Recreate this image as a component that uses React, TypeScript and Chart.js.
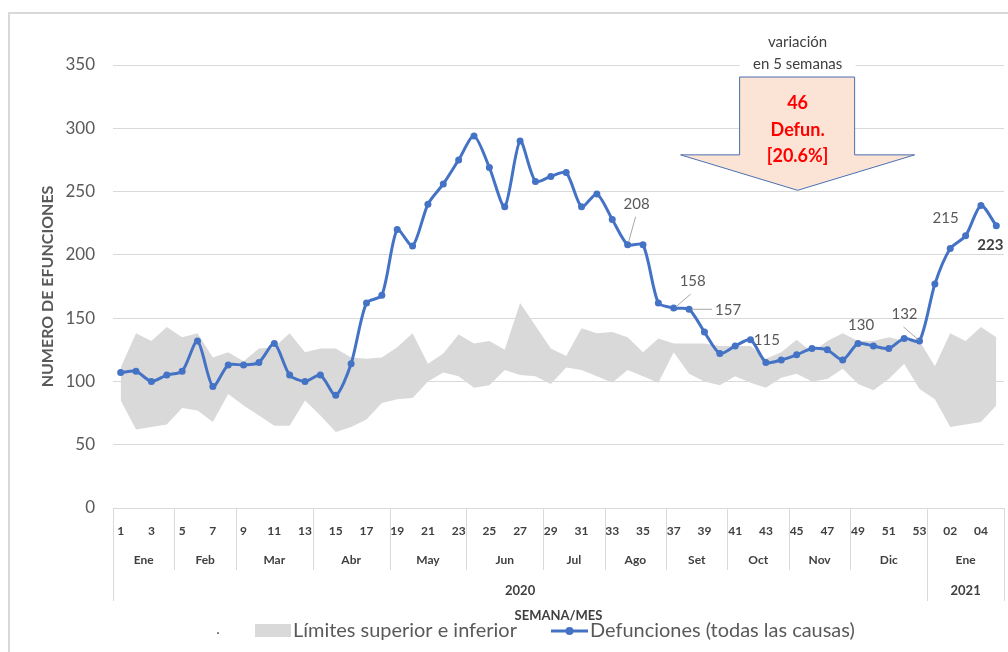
import { useEffect, useRef } from 'react';
import { Chart, registerables } from 'chart.js';

Chart.register(...registerables);

const FONT = 'Lato, "Liberation Sans", Arial, sans-serif';

const weekLabels = [
  '1', '2', '3', '4', '5', '6', '7', '8', '9', '10',
  '11', '12', '13', '14', '15', '16', '17', '18', '19', '20',
  '21', '22', '23', '24', '25', '26', '27', '28', '29', '30',
  '31', '32', '33', '34', '35', '36', '37', '38', '39', '40',
  '41', '42', '43', '44', '45', '46', '47', '48', '49', '50',
  '51', '52', '53', '01', '02', '03', '04', '05',
];

const monthNames = ['Ene', 'Feb', 'Mar', 'Abr', 'May', 'Jun', 'Jul', 'Ago', 'Set', 'Oct', 'Nov', 'Dic', 'Ene'];
const monthWeekCounts = [4, 4, 5, 5, 5, 5, 4, 4, 4, 4, 4, 5, 5];
const yearNames = ['2020', '2021'];
const yearWeekCounts = [53, 5];

const deaths = [
  107, 108, 100, 105, 108, 132, 96, 113, 113, 115,
  130, 105, 100, 105, 89, 114, 162, 168, 220, 207,
  240, 256, 275, 294, 269, 238, 290, 258, 262, 265,
  238, 248, 228, 208, 208, 162, 158, 157, 139, 122,
  128, 133, 115, 117, 121, 126, 125, 117, 130, 128,
  126, 134, 132, 177, 205, 215, 239, 223,
];

const upperLimit = [
  111, 138, 132, 143, 135, 138, 119, 123, 116, 126,
  127, 138, 123, 126, 126, 119, 118, 119, 127, 138,
  114, 122, 137, 130, 132, 125, 162, 144, 126, 120,
  142, 138, 139, 135, 123, 134, 130, 130, 130, 128,
  128, 128, 118, 123, 133, 123, 132, 138, 132, 132,
  135, 132, 132, 112, 138, 132, 143, 135,
];

const lowerLimit = [
  85, 62, 64, 66, 79, 77, 68, 90, 81, 73,
  65, 65, 85, 73, 60, 64, 70, 83, 86, 87,
  100, 107, 104, 95, 97, 109, 105, 104, 98, 111,
  109, 104, 99, 109, 104, 99, 123, 106, 100, 97,
  104, 99, 95, 103, 106, 100, 102, 110, 98, 93,
  102, 114, 94, 86, 64, 66, 68, 81,
];

const yMin = 0;
const yMax = 350;
const yStep = 50;

const legendLabels = ['Límites superior e inferior', 'Defunciones (todas las causas)'];

// value labels: index into deaths, text, label offset from point, optional leader (relative to point)
const pointLabels = [
  { index: 33, text: '208', dx: 9, dy: -41, align: 'center', bold: false, leader: [[8, -28], [1, -3]] },
  { index: 36, text: '158', dx: 19, dy: -27, align: 'center', bold: false, leader: [[17, -14], [2, -1]] },
  { index: 37, text: '157', dx: 26, dy: 1, align: 'left', bold: false, leader: [[3, 0], [23, 0]] },
  { index: 42, text: '115', dx: 1, dy: -22, align: 'center', bold: false, leader: null },
  { index: 48, text: '130', dx: 3, dy: -18, align: 'center', bold: false, leader: null },
  { index: 52, text: '132', dx: -15, dy: -27, align: 'center', bold: false, leader: [[-16, -14], [-1, -1]] },
  { index: 55, text: '215', dx: -20, dy: -18, align: 'center', bold: false, leader: null },
  { index: 57, text: '223', dx: -6, dy: 19, align: 'center', bold: true, leader: null },
];

function fitFont(ctx: CanvasRenderingContext2D, text: string, width: number, weight: string) {
  ctx.font = `${weight} 20px ${FONT}`;
  const w = ctx.measureText(text).width;
  const size = Math.max(8, Math.min(24, (20 * width) / w));
  ctx.font = `${weight} ${size.toFixed(2)}px ${FONT}`;
}

const overlayPlugin = {
  id: 'overlay',
  afterDraw(chart: any) {
    const ctx = chart.ctx as CanvasRenderingContext2D;
    const xs = chart.scales.x;
    const ys = chart.scales.y;
    const area = chart.chartArea;
    const step = xs.getPixelForValue(1) - xs.getPixelForValue(0);
    const boundary = (k: number) => xs.getPixelForValue(0) + (k - 0.5) * step;
    const bottom = area.bottom;

    ctx.save();

    // frame
    ctx.strokeStyle = '#d9d9d9';
    ctx.lineWidth = 2;
    ctx.strokeRect(9, 13, 1100, 700);

    // multi-level axis separators
    const yearBounds = new Set<number>([0]);
    let acc = 0;
    yearWeekCounts.forEach((c) => { acc += c; yearBounds.add(acc); });
    const monthBounds: number[] = [0];
    acc = 0;
    monthWeekCounts.forEach((c) => { acc += c; monthBounds.push(acc); });
    ctx.strokeStyle = '#d9d9d9';
    ctx.lineWidth = 1;
    monthBounds.forEach((k) => {
      const x = Math.round(boundary(k)) + 0.5;
      const y2 = yearBounds.has(k) ? bottom + 93 : bottom + 62;
      ctx.beginPath();
      ctx.moveTo(x, bottom);
      ctx.lineTo(x, y2);
      ctx.stroke();
    });

    // month labels
    ctx.fillStyle = '#404040';
    ctx.textAlign = 'center';
    ctx.textBaseline = 'middle';
    ctx.font = `bold 12px ${FONT}`;
    acc = 0;
    monthWeekCounts.forEach((c, i) => {
      const cx = (boundary(acc) + boundary(acc + c)) / 2;
      ctx.fillText(monthNames[i], cx, bottom + 52);
      acc += c;
    });
    // year labels
    ctx.font = `bold 13px ${FONT}`;
    acc = 0;
    yearWeekCounts.forEach((c, i) => {
      const cx = (boundary(acc) + boundary(acc + c)) / 2;
      ctx.fillText(yearNames[i], cx, bottom + 83);
      acc += c;
    });
    // axis title
    ctx.font = `bold 13px ${FONT}`;
    ctx.fillText('SEMANA/MES', (area.left + area.right) / 2, bottom + 108);

    // y title
    ctx.save();
    ctx.translate(48, (area.top + area.bottom) / 2);
    ctx.rotate(-Math.PI / 2);
    ctx.fillStyle = '#595959';
    ctx.font = `bold 16px ${FONT}`;
    ctx.fillText('NUMERO DE EFUNCIONES', 0, 0);
    ctx.restore();

    // point labels
    const meta = chart.getDatasetMeta(0);
    pointLabels.forEach((l) => {
      const p = meta.data[l.index];
      if (l.leader) {
        ctx.strokeStyle = '#a6a6a6';
        ctx.lineWidth = 1;
        ctx.beginPath();
        ctx.moveTo(p.x + l.leader[0][0], p.y + l.leader[0][1]);
        ctx.lineTo(p.x + l.leader[1][0], p.y + l.leader[1][1]);
        ctx.stroke();
      }
      ctx.fillStyle = l.bold ? '#404040' : '#595959';
      ctx.font = `${l.bold ? 'bold ' : ''}15px ${FONT}`;
      ctx.textAlign = l.align as CanvasTextAlign;
      ctx.textBaseline = 'middle';
      ctx.fillText(l.text, p.x + l.dx, p.y + l.dy);
    });

    // arrow annotation (anchored to scales)
    const ax = xs.getPixelForValue(44) + 1;
    const yTop = ys.getPixelForValue(340.5);
    const yShoulder = ys.getPixelForValue(279);
    const yTip = ys.getPixelForValue(251);
    ctx.beginPath();
    ctx.moveTo(ax - 58, yTop);
    ctx.lineTo(ax + 57, yTop);
    ctx.lineTo(ax + 57, yShoulder);
    ctx.lineTo(ax + 117, yShoulder);
    ctx.lineTo(ax, yTip);
    ctx.lineTo(ax - 117, yShoulder);
    ctx.lineTo(ax - 58, yShoulder);
    ctx.closePath();
    ctx.fillStyle = '#fbe4d5';
    ctx.fill();
    ctx.strokeStyle = '#4a6fb0';
    ctx.lineWidth = 1;
    ctx.stroke();

    ctx.fillStyle = '#ff0000';
    ctx.font = `bold 18px ${FONT}`;
    ctx.textAlign = 'center';
    ctx.textBaseline = 'middle';
    ctx.fillText('46', ax, yTop + 26);
    ctx.fillText('Defun.', ax, yTop + 53);
    ctx.fillText('[20.6%]', ax, yTop + 79);

    // caption above arrow
    ctx.fillStyle = '#ffffff';
    ctx.fillRect(ax - 58, yTop - 46, 116, 44);
    ctx.fillStyle = '#404040';
    ctx.font = `15px ${FONT}`;
    ctx.fillText('variación', ax, yTop - 35);
    ctx.fillText('en 5 semanas', ax, yTop - 13);

    // legend
    const ly = 631;
    ctx.fillStyle = '#595959';
    ctx.font = `15px ${FONT}`;
    ctx.textAlign = 'center';
    ctx.fillText('.', 218, ly - 2);
    ctx.fillStyle = '#d9d9d9';
    ctx.fillRect(255, ly - 7, 36, 13);
    ctx.fillStyle = '#595959';
    ctx.textAlign = 'left';
    fitFont(ctx, legendLabels[0], 224, 'normal');
    ctx.fillText(legendLabels[0], 293, ly);
    ctx.strokeStyle = '#4472c4';
    ctx.lineWidth = 3;
    ctx.beginPath();
    ctx.moveTo(551, ly);
    ctx.lineTo(588, ly);
    ctx.stroke();
    ctx.fillStyle = '#4472c4';
    ctx.beginPath();
    ctx.arc(569.5, ly, 4, 0, Math.PI * 2);
    ctx.fill();
    ctx.fillStyle = '#595959';
    fitFont(ctx, legendLabels[1], 265, 'normal');
    ctx.fillText(legendLabels[1], 590, ly);

    ctx.restore();
  },
};

export default function App() {
  const canvasRef = useRef<HTMLCanvasElement | null>(null);

  useEffect(() => {
    const canvas = canvasRef.current;
    if (!canvas) return;
    const chart = new Chart(canvas, {
      type: 'line',
      data: {
        labels: weekLabels,
        datasets: [
          {
            label: legendLabels[1],
            data: deaths,
            borderColor: '#4472c4',
            backgroundColor: '#4472c4',
            borderWidth: 3,
            pointRadius: 3.5,
            pointBackgroundColor: '#4472c4',
            pointBorderWidth: 0,
            tension: 0.25,
            fill: false,
          },
          {
            label: '',
            data: lowerLimit,
            borderWidth: 0,
            borderColor: 'rgba(0,0,0,0)',
            backgroundColor: 'rgba(0,0,0,0)',
            pointRadius: 0,
            tension: 0,
            fill: false,
          },
          {
            label: legendLabels[0],
            data: upperLimit,
            borderWidth: 0,
            borderColor: 'rgba(0,0,0,0)',
            backgroundColor: '#d9d9d9',
            pointRadius: 0,
            tension: 0,
            fill: 1,
          },
        ],
      },
      options: {
        responsive: false,
        animation: false,
        layout: { padding: { top: 65, right: 2, left: 0, bottom: 0 } },
        plugins: {
          legend: { display: false },
          tooltip: { enabled: false },
        },
        scales: {
          x: {
            type: 'category',
            offset: true,
            grid: { display: false, drawTicks: true, tickLength: 14 },
            border: { display: true, color: '#d9d9d9' },
            ticks: {
              autoSkip: false,
              maxRotation: 0,
              minRotation: 0,
              padding: 2,
              color: '#404040',
              font: { family: FONT, size: 12, weight: 'bold' },
              callback: (_v: any, i: number) => (i % 2 === 0 ? weekLabels[i] : ''),
            },
            afterFit: (s: any) => { s.height = 144; },
          },
          y: {
            min: yMin,
            max: yMax,
            ticks: {
              stepSize: yStep,
              padding: 18,
              color: '#595959',
              font: { family: FONT, size: 17 },
            },
            grid: { color: '#d9d9d9', drawTicks: false },
            border: { display: false },
            afterFit: (s: any) => { s.width = 113; },
          },
        },
      } as any,
      plugins: [overlayPlugin],
    });
    return () => chart.destroy();
  }, []);

  return (
    <div style={{ position: 'absolute', left: 0, top: 0, width: 1008, height: 652, background: '#ffffff' }}>
      <canvas ref={canvasRef} width={1008} height={652} style={{ display: 'block' }} />
    </div>
  );
}
